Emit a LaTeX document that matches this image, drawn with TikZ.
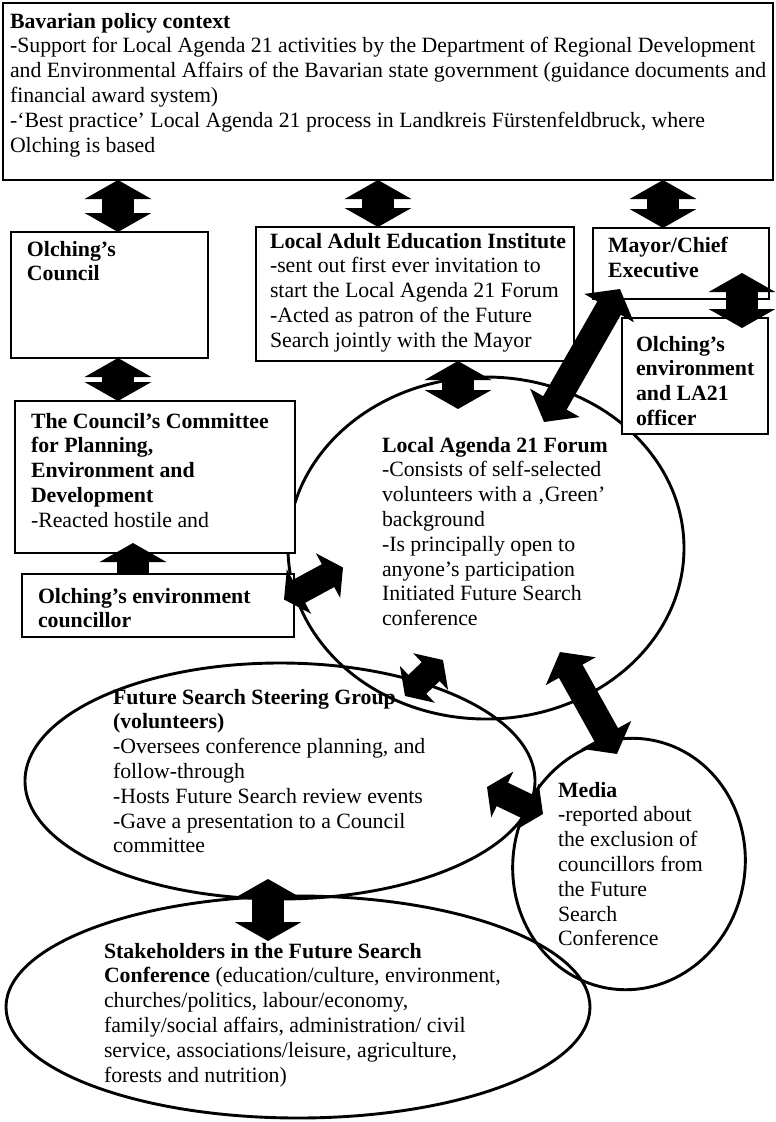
\documentclass[tikz,border=0pt]{standalone}
\usepackage{fontspec}
\setmainfont{Liberation Serif}
\usetikzlibrary{arrows.meta,shapes.geometric,calc}

\begin{document}
\begin{tikzpicture}[x=1pt,y=-1pt,
  box/.style={draw,line width=2.9pt,fill=white,inner sep=0pt,outer sep=0pt,anchor=north west},
  oval/.style={draw,line width=2.9pt,ellipse,inner sep=0pt,outer sep=0pt},
  txt/.style={anchor=north west,inner sep=0pt,outer sep=0pt,align=left,
    font=\fontsize{21.8}{24.8}\selectfont,execute at begin node=\strut},
  bigarr/.style={line width=32pt,{Triangle[width=66pt,length=19pt]}-{Triangle[width=66pt,length=19pt]}},
  midarr/.style={line width=27pt,{Triangle[width=56pt,length=22pt]}-{Triangle[width=56pt,length=22pt]}},
  shortarr/.style={line width=26pt,{Triangle[width=50pt,length=17pt]}-{Triangle[width=50pt,length=17pt]}}
]
\useasboundingbox (0,0) rectangle (776,1122);
\fill[white] (0,0) rectangle (776,1122);

% ---------- ovals ----------
\node[oval,minimum width=396pt,minimum height=342pt] (forum) at (486,548) {};
\node[oval,minimum width=510pt,minimum height=236pt] (steer) at (280,781) {};
\node[oval,minimum width=232pt,minimum height=252pt,rotate=-10] (media) at (629,864) {};
\node[oval,minimum width=584pt,minimum height=222pt] (stake) at (298,1007) {};

% ---------- boxes ----------
\node[box,minimum width=770pt,minimum height=177pt] (policy) at (3,3) {};
\node[box,minimum width=197pt,minimum height=126pt] (council) at (11,232) {};
\node[box,minimum width=318pt,minimum height=134pt] (adult) at (256,227) {};
\node[box,minimum width=176pt,minimum height=71pt] (mayor) at (593,228) {};
\node[box,minimum width=146pt,minimum height=116pt] (officer) at (622,318) {};
\node[box,minimum width=280pt,minimum height=152pt] (committee) at (15,401) {};

% committee -- councillor (lower head hidden by the councillor box)
\coordinate (c5) at ($(committee.south west)+(118,0)$);
\draw[bigarr] ($(c5)+(0,-10)$) -- ($(c5)+(0,44)$);
\node[box,minimum width=272pt,minimum height=63pt] (councillor) at (22,574) {};

% ---------- texts ----------
\node[txt] (tpolicy) at (10,13) {\textbf{Bavarian policy context}\\
-Support for Local Agenda 21 activities by the Department of Regional Development\\
and Environmental Affairs of the Bavarian state government (guidance documents and\\
financial award system)\\
-‘Best practice’ Local Agenda 21 process in Landkreis Fürstenfeldbruck, where\\
Olching is based};
\node[txt] (tcouncil) at (27,241) {\textbf{Olching’s}\\\textbf{Council}};
\node[txt] (tadult) at (270,233) {\textbf{Local Adult Education Institute}\\
-sent out first ever invitation to\\start the Local Agenda 21 Forum\\
-Acted as patron of the Future\\Search jointly with the Mayor};
\node[txt] (tmayor) at (608,237) {\textbf{Mayor/Chief}\\\textbf{Executive}};
\node[txt] (tofficer) at (636,336) {\textbf{Olching’s}\\\textbf{environment}\\\textbf{and LA21}\\\textbf{officer}};
\node[txt] (tcommittee) at (31,413) {\textbf{The Council’s Committee}\\\textbf{for Planning,}\\
\textbf{Environment and}\\\textbf{Development}\\-Reacted hostile and};
\node[txt] (tcouncillor) at (38,588) {\textbf{Olching’s environment}\\\textbf{councillor}};
\node[txt] (tforum) at (382,437) {\textbf{Local Agenda 21 Forum}\\-Consists of self-selected\\
volunteers with a ‚Green’\\background\\-Is principally open to\\anyone’s participation\\
Initiated Future Search\\conference};
\node[txt] (tsteer) at (113,689) {\textbf{Future Search Steering Group}\\\textbf{(volunteers)}\\
-Oversees conference planning, and\\follow-through\\-Hosts Future Search review events\\
-Gave a presentation to a Council\\committee};
\node[txt] (tmedia) at (558,782) {\textbf{Media}\\-reported about\\the exclusion of\\
councillors from\\the Future\\Search\\Conference};
\node[txt] (tstake) at (104,943) {\textbf{Stakeholders in the Future Search}\\
\textbf{Conference} (education/culture, environment,\\churches/politics, labour/economy,\\
family/social affairs, administration/ civil\\service, associations/leisure, agriculture,\\
forests and nutrition)};

% ---------- block arrows ----------
\coordinate (c1) at ($(council.north west)+(107,0)$);
\draw[bigarr] (c1 |- policy.south) -- (c1);
\coordinate (c2) at ($(adult.north west)+(122,0)$);
\draw[bigarr] (c2 |- policy.south) -- (c2);
\coordinate (c3) at ($(mayor.north west)+(70,0)$);
\draw[bigarr] (c3 |- policy.south) -- (c3);
\coordinate (c4) at ($(council.south west)+(107,0)$);
\draw[bigarr] (c4) -- (c4 |- committee.north);
\coordinate (c6) at ($(adult.south west)+(202,0)$);
\draw[bigarr] (c6) -- ($(c6)+(0,48)$);
\coordinate (c7) at ($(officer.north east)+(-26,0)$);
\draw[bigarr] ($(c7)+(0,-45)$) -- ($(c7)+(0,10)$);
\draw[midarr] ($(forum.center)+(58,-126)$) -- ($(mayor.south west)+(27,-10)$);
\draw[shortarr] ($(councillor.east)+(-10,-6)$) -- ($(councillor.east)+(49,-38)$);
\draw[shortarr] ($(steer.center)+(125,-85)$) -- ($(forum.center)+(-43,112)$);
\draw[midarr] ($(forum.center)+(74,104)$) -- ($(media.center)+(-12,-110)$);
\draw[shortarr] ($(steer.center)+(207,6)$) -- ($(media.center)+(-86,-50)$);
\coordinate (c13) at ($(steer.south)+(-12,-20)$);
\draw[bigarr] (c13) -- ($(c13)+(0,62)$);
\end{tikzpicture}
\end{document}
